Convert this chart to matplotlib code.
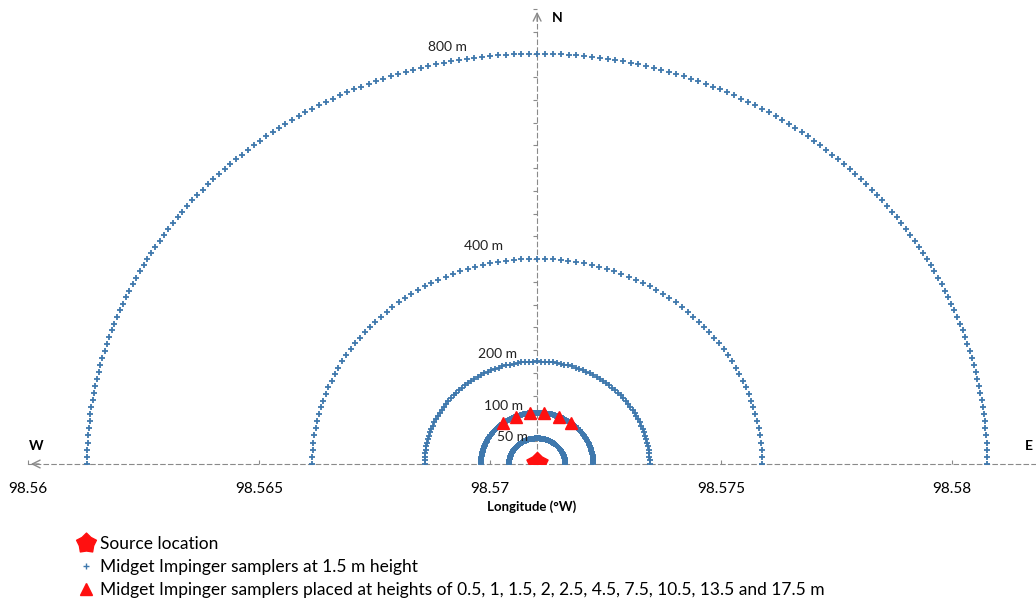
import matplotlib
matplotlib.use("Agg")
import matplotlib.pyplot as plt
import numpy as np
from matplotlib.lines import Line2D
from matplotlib.path import Path

plt.rcParams["font.family"] = ["Lato", "DejaVu Sans"]

# Source location (deg W, deg N)
lon0 = 98.57102
lat0 = 42.46

# Sampling arcs: radius (m) and angular step between samplers (deg)
radii = [800, 400, 200, 100, 50]
steps = [1, 2, 2, 1, 1]
radius_labels = ["800 m", "400 m", "200 m", "100 m", "50 m"]

# Elevated samplers on the 100 m arc (bearing from north, deg)
tower_radius = 100
tower_bearings = [-37.5, -22.5, -7.5, 7.5, 22.5, 37.5]

x_ticks = [98.56, 98.565, 98.57, 98.575, 98.58]
x_ticklabels = ["98.56", "98.565", "98.57", "98.575", "98.58"]

m_per_deg_lat = 111000.0
m_per_deg_lon = 111320.0 * np.cos(np.radians(lat0))


def to_lonlat(r, bearing_deg):
    b = np.radians(bearing_deg)
    return lon0 + r * np.sin(b) / m_per_deg_lon, lat0 + r * np.cos(b) / m_per_deg_lat


blue = "#3f78ad"
red = "#ff1010"
grey = "#8a8a8a"

fig = plt.figure(figsize=(10.36, 6.01), dpi=100)
W, H = 1036, 601
ax = fig.add_axes([28 / W, (H - 464) / H, 1008 / W, 464 / H])
ax.set_xlim(98.56, 98.56 + 1008 / 46200)
ax.set_ylim(lat0, lat0 + 464 / 56900)
ax.patch.set_alpha(0)

# arcs of samplers
for r, st in zip(radii, steps):
    bearings = np.arange(-90, 90 + st / 2, st)
    x, y = to_lonlat(r, bearings)
    ax.plot(x, y, ls="none", marker="+", ms=4.3, mew=1.3, color=blue, zorder=3)

# radius labels
offsets = [(-90, 7), (-54, 13), (-40, 7), (-34, 7), (-25, 1)]
for r, lab, off in zip(radii, radius_labels, offsets):
    x, y = to_lonlat(r, 0)
    ax.annotate(lab, xy=(x, y), xytext=off, textcoords="offset pixels",
                ha="center", va="center", fontsize=10, color="#222222", zorder=5)

# elevated samplers
tx, ty = to_lonlat(tower_radius, np.array(tower_bearings))
ax.plot(tx, ty, ls="none", marker="^", ms=9, color=red, zorder=4)

# source marker (rounded star)
ang = np.radians(np.arange(0, 360, 36) + 90)
rad = np.where(np.arange(10) % 2 == 0, 1.0, 0.72)
star_verts = np.column_stack([rad * np.cos(ang), rad * np.sin(ang)])
star_verts = np.vstack([star_verts, star_verts[:1]])
star = Path(star_verts, closed=True)
ax.plot([lon0], [lat0 + 0.00002], ls="none", marker=star, ms=16, color=red, zorder=6)

# axes styling: x-axis as dashed line, vertical axis through the source
for s in ["top", "right"]:
    ax.spines[s].set_visible(False)
ax.spines["bottom"].set_linestyle((0, (4, 3)))
ax.spines["bottom"].set_color(grey)
ax.spines["left"].set_position(("data", lon0))
ax.spines["left"].set_linestyle((0, (4, 3)))
ax.spines["left"].set_color(grey)
ax.spines["left"].set_bounds(lat0, lat0 + 450 / 56900)

ax.set_xticks(x_ticks)
ax.set_xticklabels(x_ticklabels, fontsize=11)
ax.tick_params(axis="x", direction="in", length=3, color=grey, pad=13)
ax.set_yticks(lat0 + np.arange(1, 21) * 0.0004)
ax.set_yticklabels([])
ax.tick_params(axis="y", direction="out", length=3, color=grey)
ax.set_ylim(lat0, lat0 + 464 / 56900)
ax.set_xlabel("Longitude (°W)", fontsize=9.5, fontweight="bold", labelpad=3)

# arrow heads
ax.annotate("", xy=(98.56, lat0), xytext=(98.5603, lat0),
            arrowprops=dict(arrowstyle="->", color=grey, lw=1, mutation_scale=14), annotation_clip=False)
ax.annotate("", xy=(lon0, lat0 + 455 / 56900), xytext=(lon0, lat0 + 440 / 56900),
            arrowprops=dict(arrowstyle="->", color=grey, lw=1, mutation_scale=14), annotation_clip=False)

# compass letters
fig.text(557 / W, 1 - 18 / H, "N", fontsize=10, fontweight="bold", ha="center", va="center")
fig.text(36 / W, 1 - 446 / H, "W", fontsize=10, fontweight="bold", ha="center", va="center")
fig.text(1025 / W, 1 - 446 / H, "E", fontsize=10, fontweight="bold", ha="left", va="center")

# legend
handles = [
    Line2D([], [], ls="none", marker=star, ms=15, color=red),
    Line2D([], [], ls="none", marker="+", ms=4, mew=1, color=blue),
    Line2D([], [], ls="none", marker="^", ms=9, color=red),
]
labels = [
    "Source location",
    "Midget Impinger samplers at 1.5 m height",
    "Midget Impinger samplers placed at heights of 0.5, 1, 1.5, 2, 2.5, 4.5, 7.5, 10.5, 13.5 and 17.5 m",
]
fig.legend(handles, labels, loc="upper left", bbox_to_anchor=(70 / W, 1 - 527 / H),
           frameon=False, fontsize=12.5, handlelength=0.9, handletextpad=0.35,
           labelspacing=0.42, borderpad=0)

fig.savefig("out.png", dpi=100)
